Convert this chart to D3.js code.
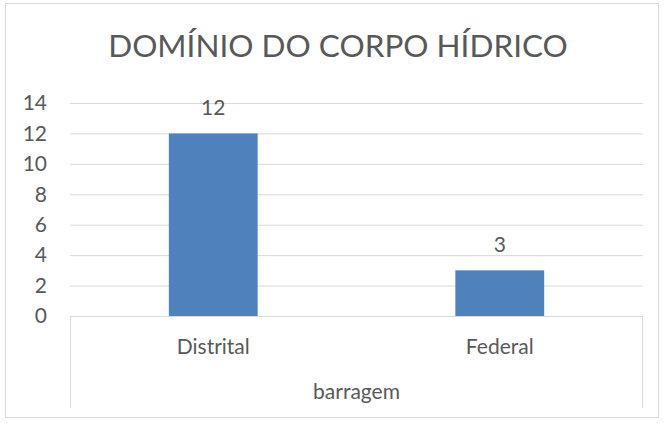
<!DOCTYPE html>
<html>
<head>
<meta charset="utf-8">
<script src="https://cdn.jsdelivr.net/npm/d3@7"></script>
<style>
  body { margin: 0; background: #fff; }
  text { font-family: Lato, "Open Sans", sans-serif; fill: #595959; }
</style>
</head>
<body>
<div id="chart"></div>
<script>
// dados do gráfico
const categories = ["Distrital", "Federal"];
const values = [12, 3];
const groupLabel = "barragem";
const yTicks = [0, 2, 4, 6, 8, 10, 12, 14];
const title = "DOMÍNIO DO CORPO HÍDRICO";

const W = 664, H = 423;
const margin = { top: 103, right: 21, bottom: 107, left: 70 };
const width = W - margin.left - margin.right;
const height = H - margin.top - margin.bottom;

const svg = d3.select("#chart")
    .append("svg")
    .attr("width", W)
    .attr("height", H);

// moldura
svg.append("rect")
    .attr("x", 5.5).attr("y", 3.5)
    .attr("width", 653).attr("height", 414)
    .attr("fill", "#fff")
    .attr("stroke", "#d9d9d9");

svg.append("text")
    .attr("x", 338).attr("y", 57)
    .attr("text-anchor", "middle")
    .style("font-size", "31.5px")
    .text(title);

const g = svg.append("g")
    .attr("transform", "translate(" + margin.left + "," + margin.top + ")");

const y = d3.scaleLinear().domain([0, 14]).range([height, 0]);
const x = d3.scaleBand().domain(categories).range([0, width]).paddingInner(0.69).paddingOuter(0.345);

// grade
g.append("g")
    .call(d3.axisLeft(y).tickValues(yTicks).tickSize(-width).tickFormat(""))
    .call(s => s.select(".domain").remove())
    .selectAll("line").attr("stroke", "#d9d9d9");

// rótulos do eixo y
g.append("g")
    .call(d3.axisLeft(y).tickValues(yTicks).tickSize(0).tickPadding(23))
    .call(s => s.select(".domain").remove())
    .selectAll("text")
    .style("font-size", "21px")
    .attr("fill", "#595959");

// barras
g.selectAll(".bar")
    .data(values)
    .enter()
    .append("rect")
    .attr("class", "bar")
    .attr("x", (d, i) => x(categories[i]))
    .attr("y", d => y(d))
    .attr("width", x.bandwidth())
    .attr("height", d => height - y(d))
    .attr("fill", "#4f81bd");

// rótulos de valor
g.selectAll(".lbl")
    .data(values)
    .enter()
    .append("text")
    .attr("class", "lbl")
    .attr("x", (d, i) => x(categories[i]) + x.bandwidth() / 2)
    .attr("y", d => y(d) - 18)
    .attr("text-anchor", "middle")
    .style("font-size", "21px")
    .text(d => d);

// eixo x com caixa de categorias
const axis = g.append("g").attr("transform", "translate(0," + height + ")");
axis.append("path")
    .attr("d", "M0.5,92V0.5H" + (width - 0.5) + "V92")
    .attr("fill", "none")
    .attr("stroke", "#d9d9d9");

axis.selectAll(".cat")
    .data(categories)
    .enter()
    .append("text")
    .attr("class", "cat")
    .attr("x", d => x(d) + x.bandwidth() / 2)
    .attr("y", 38)
    .attr("text-anchor", "middle")
    .style("font-size", "21px")
    .text(d => d);

axis.append("text")
    .attr("x", width / 2)
    .attr("y", 83)
    .attr("text-anchor", "middle")
    .style("font-size", "21px")
    .text(groupLabel);
</script>
</body>
</html>
